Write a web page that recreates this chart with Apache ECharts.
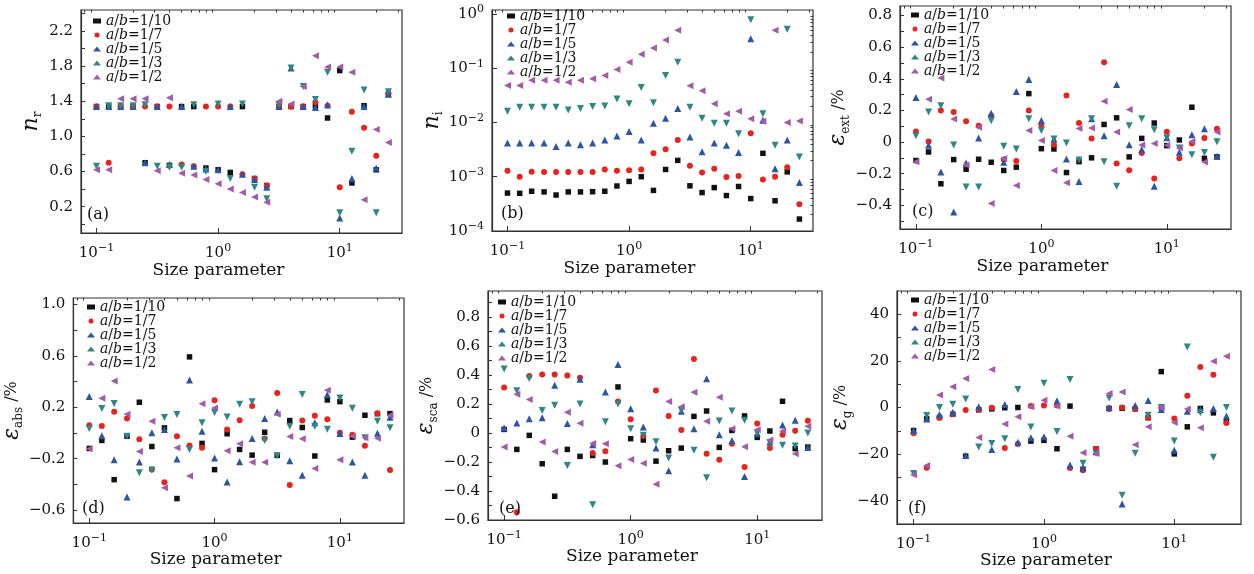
<!DOCTYPE html>
<html><head><meta charset="utf-8">
<script src="https://cdn.jsdelivr.net/npm/echarts@6/dist/echarts.min.js"></script>
<style>html,body{margin:0;padding:0;background:#fff}#chart{width:1254px;height:574px}</style>
</head><body><div id="chart"></div>
<script>
// ---------- data ----------
const sizeParam = [0.1, 0.126, 0.158, 0.2, 0.251, 0.316, 0.398, 0.501, 0.631, 0.794, 1.0, 1.259, 1.585, 1.995, 2.512, 3.162, 3.981, 5.012, 6.31, 7.943, 10.0, 12.59, 15.85, 19.95, 25.12];
const seriesNames = ['a/b=1/10', 'a/b=1/7', 'a/b=1/5', 'a/b=1/3', 'a/b=1/2'];

// (a) real part of refractive index
const nr_10 = [1.34,1.34,1.34,1.34,0.70,1.34,0.67,1.34,1.34,0.64,0.62,0.59,1.34,0.52,0.44,1.34,1.34,1.34,1.34,1.21,1.75,0.47,1.35,0.62,1.48];
const nr_7  = [1.34,0.70,1.34,1.34,1.34,1.34,1.34,0.68,0.66,1.34,1.34,1.34,0.57,0.52,0.44,1.34,1.34,1.34,1.39,1.35,0.42,1.28,1.10,0.78,1.49];
const nr_5  = [1.34,1.34,1.34,1.34,0.70,1.34,0.68,1.34,0.66,0.63,0.62,1.34,0.57,0.51,0.42,1.34,1.78,1.34,1.33,1.36,0.07,0.52,1.34,0.64,1.48];
const nr_3  = [0.66,1.35,1.35,1.35,1.36,0.66,0.65,0.65,1.36,0.60,1.37,0.52,1.37,0.42,0.29,1.36,1.78,1.57,1.42,1.73,0.13,0.83,1.53,0.13,1.51];
const nr_2  = [0.62,0.62,1.43,1.43,1.43,0.61,1.44,0.58,0.56,0.51,0.46,0.40,0.36,0.31,0.25,1.40,1.37,1.57,1.92,1.79,1.79,1.73,0.28,1.08,0.93];

// (b) imaginary part of refractive index
const ni_10 = [5.0e-4,4.95e-4,5.4e-4,5.25e-4,4.6e-4,5.25e-4,5.25e-4,5.3e-4,5.4e-4,6.75e-4,8.2e-4,1.0e-3,5.6e-4,1.36e-3,2.0e-3,6.8e-4,5.1e-4,6.3e-4,4.5e-4,6.6e-4,3.96e-4,2.7e-3,3.6e-4,1.23e-3,1.66e-4];
const ni_7  = [1.29e-3,1.0e-3,1.23e-3,1.22e-3,1.22e-3,1.22e-3,1.22e-3,1.22e-3,1.36e-3,1.29e-3,1.32e-3,1.36e-3,2.7e-3,3.2e-3,4.75e-3,1.59e-3,1.2e-3,1.4e-3,9.9e-4,1.03e-3,6.3e-3,8.9e-4,1.0e-3,1.5e-3,3.1e-4];
const ni_5  = [4.2e-3,4.2e-3,4.2e-3,4.2e-3,3.6e-3,4.2e-3,3.9e-3,4.2e-3,4.75e-3,5.6e-3,6.8e-3,4.75e-3,9.7e-3,1.2e-2,1.8e-2,5.4e-3,2.9e-3,4.2e-3,3.8e-3,2.8e-3,0.35,1.1e-2,1.4e-3,4.75e-3,7.8e-4];
const ni_3  = [1.6e-2,1.9e-2,1.9e-2,1.9e-2,1.9e-2,1.7e-2,1.8e-2,1.96e-2,2.0e-2,2.7e-2,2.2e-2,4.4e-2,2.3e-2,7.3e-2,0.129,1.9e-2,1.2e-2,9.7e-3,9.7e-3,6.2e-3,0.78,1.44e-2,3.8e-3,0.52,2.3e-3];
const ni_2  = [4.8e-2,4.8e-2,6.0e-2,6.0e-2,6.0e-2,5.5e-2,6.0e-2,6.4e-2,7.3e-2,9.5e-2,0.129,0.18,0.236,0.33,0.50,4.75e-2,3.85e-2,2.2e-2,1.44e-2,1.6e-2,1.17e-2,1.05e-2,0.5,1.0e-2,1.06e-2];

// (c) extinction error /%
const ext_10 = [-0.117,-0.063,-0.264,-0.111,-0.172,-0.109,-0.128,-0.18,-0.159,0.306,-0.042,-0.044,-0.193,-0.124,-0.10,0.111,0.153,-0.094,0.023,0.12,-0.023,0.013,0.22,-0.103,-0.094];
const ext_7  = [0.067,0.004,0.2,0.189,0.132,0.103,0.166,-0.11,-0.12,0.2,0.107,-0.017,0.294,0.12,0.023,0.505,-0.136,-0.178,-0.069,-0.231,0.065,-0.103,-0.01,0.025,0.084];
const ext_5  = [0.281,-0.021,-0.19,-0.442,-0.132,0.025,0.182,-0.128,0.32,0.396,0.136,0.019,-0.107,-0.249,0.147,0.04,0.363,-0.017,-0.048,-0.279,0.027,-0.065,0.046,0.084,-0.09];
const ext_3  = [0.04,0.189,0.229,-0.019,-0.285,-0.285,0.134,-0.027,-0.044,0.147,0.073,0.019,-0.006,-0.113,0.147,-0.124,-0.279,0.103,0.147,0.078,0.027,-0.038,-0.08,-0.067,0.002];
const ext_2  = [-0.124,0.27,0.405,0.145,-0.145,0.094,-0.388,-0.105,-0.275,0.073,0.01,-0.18,-0.258,0.086,0.088,0.258,0.063,0.205,-0.019,-0.01,-0.021,-0.038,0.004,-0.126,0.063];

// (d) absorption error /%
const abs_10 = [-0.12,-0.058,-0.363,-0.025,0.239,-0.105,0.04,-0.51,0.592,-0.081,-0.285,-0.006,-0.128,-0.172,0.006,-0.174,0.097,0.043,-0.179,0.257,0.244,-0.032,0.138,0.15,0.151];
const abs_7  = [0.061,0.055,0.166,0.112,-0.048,-0.283,-0.383,-0.025,-0.097,-0.115,0.254,0.027,0.099,0.21,-0.043,0.311,-0.404,0.097,0.135,0.107,0.001,-0.014,-0.099,0.154,-0.288];
const abs_5  = [0.283,-0.022,-0.208,-0.497,-0.226,0.001,0.027,-0.203,0.412,0.014,-0.195,-0.381,-0.223,-0.043,0.112,0.164,-0.215,-0.329,0.079,0.298,-0.004,-0.226,-0.329,-0.001,0.123];
const abs_3  = [0.035,0.19,0.229,-0.025,-0.309,-0.288,0.12,0.143,-0.128,0.079,0.159,0.125,0.223,0.244,-0.058,-0.177,0.053,0.30,0.053,0.03,0.272,0.192,-0.037,0.092,0.04];
const abs_2  = [-0.123,0.27,0.404,0.146,-0.143,0.092,-0.425,-0.115,-0.334,0.228,0.195,-0.138,-0.084,-0.228,-0.228,0.146,-0.027,-0.045,-0.277,0.332,-0.208,-0.025,-0.037,-0.04,0.138];

// (e) scattering error /%
const sca_10 = [0.025,-0.113,-0.016,-0.212,-0.436,-0.113,-0.161,-0.155,-0.2,0.318,-0.039,-0.048,-0.194,-0.122,-0.104,0.115,0.152,-0.099,0.018,0.118,-0.03,0.014,0.219,-0.108,-0.097];
const sca_7  = [0.314,-0.547,0.394,0.404,0.404,0.397,0.381,-0.138,-0.125,0.217,0.095,-0.021,0.293,0.118,0.021,0.51,-0.143,-0.185,-0.074,-0.235,0.065,-0.104,-0.012,0.016,0.085];
const sca_5  = [0.035,0.069,0.099,0.106,0.33,0.065,0.371,-0.081,0.284,0.473,0.168,0.042,-0.104,-0.261,0.15,0.03,0.374,-0.012,-0.051,-0.30,-0.005,-0.062,0.055,0.088,-0.099];
const sca_3  = [0.441,0.291,0.376,0.155,0.191,-0.224,0.201,-0.494,0.078,0.201,0.03,-0.016,-0.06,-0.173,0.157,-0.118,-0.309,0.083,0.152,0.088,0.002,-0.067,-0.085,-0.09,0.0];
const sca_2  = [-0.097,0.268,0.231,-0.062,-0.127,0.143,0.067,-0.072,-0.074,-0.226,-0.182,-0.208,-0.353,0.217,0.182,0.281,0.081,0.247,0.03,-0.095,0.023,-0.048,0.014,-0.143,0.046];

// (f) asymmetry factor error /%
const g_10 = [-9.9,-4.9,-4.3,-2.9,-20.9,-1,-0.6,-0.1,0,-14.4,-14.1,-17.7,0.6,-26.5,-17.7,-0.4,-0.3,-0.6,-4.4,15.4,-19.9,-8.3,-0.4,-2.3,-6.1];
const g_7  = [-11,-25.9,-4.4,-2.9,-1.1,-0.9,-0.1,-17.4,-15.7,0.6,0.9,0.9,-26,-26.9,-17.7,-0.6,0,-0.4,-4.3,-0.1,-4.7,5,17.4,14.1,-6.6];
const g_5  = [-9.9,-4.9,-3,-2,-20.6,0.3,-18,1.3,-14.9,-13,-12.6,2.9,-24.7,-25.9,-19,0,-41.4,0.9,3,-0.9,-18.3,-1.6,-0.9,-0.4,-3.7];
const g_3  = [-28.3,-3.4,0,1.4,3.7,-17,-15.4,-13.4,7.7,-8.4,10.4,-10.3,12,-23.9,-19.7,4.1,-37.7,-19.6,-3.3,0,-14.4,26,-2.3,-21.4,0];
const g_2  = [-28.9,-24.9,5.4,8.9,12.4,-12.9,16.3,-7.1,-4,0.3,3.1,0.6,-12.3,-19.4,-19.7,6,6.6,-16,-8.3,0,-6.4,-0.6,-8.7,19.9,22];

// ---------- ticks ----------
const xMajorTicks = [0.1, 1, 10];
const xMinorTicks = [0.08,0.09,0.2,0.3,0.4,0.5,0.6,0.7,0.8,0.9,2,3,4,5,6,7,8,9,20,30];
const aTicks  = [0,0.2,0.4,0.6,0.8,1.0,1.2,1.4,1.6,1.8,2.0,2.2,2.4];
const aLabels = [0.2,0.6,1.0,1.4,1.8,2.2];
const bLabels = [1e-4,1e-3,1e-2,1e-1,1];
const bMinor  = [2e-4,3e-4,4e-4,5e-4,6e-4,7e-4,8e-4,9e-4,2e-3,3e-3,4e-3,5e-3,6e-3,7e-3,8e-3,9e-3,2e-2,3e-2,4e-2,5e-2,6e-2,7e-2,8e-2,9e-2,0.2,0.3,0.4,0.5,0.6,0.7,0.8,0.9];
const cTicks  = [-0.5,-0.4,-0.3,-0.2,-0.1,0,0.1,0.2,0.3,0.4,0.5,0.6,0.7,0.8];
const cLabels = [-0.4,-0.2,0,0.2,0.4,0.6,0.8];
const dTicks  = [-0.6,-0.4,-0.2,0,0.2,0.4,0.6,0.8,1.0];
const dLabels = [-0.6,-0.2,0.2,0.6,1.0];
const eTicks  = [-0.5,-0.4,-0.3,-0.2,-0.1,0,0.1,0.2,0.3,0.4,0.5,0.6,0.7,0.8,0.9];
const eLabels = [-0.6,-0.4,-0.2,0,0.2,0.4,0.6,0.8];
const fTicks  = [-40,-30,-20,-10,0,10,20,30,40];
const fLabels = [-40,-20,0,20,40];

// ---------- style ----------
const FONT = 'DejaVu Serif';
const TXT = '#111';
const AX = '#333';
const colors = ['#111111', '#e8231d', '#2d55a5', '#2f8783', '#a45aa9'];
const symbols = ['rect', 'circle', 'triangle', 'triangle', 'triangle'];
const rotates = [0, 0, 0, 180, 90];
const sizes = [5.5, 6, 7, 7, 7];
const X_MIN = 0.0746, X_MAX = 32.5;

const grids = [
  {left: 81,  top: 10,  width: 321, height: 223},
  {left: 492, top: 10,  width: 321, height: 221},
  {left: 900, top: 6,   width: 331, height: 223},
  {left: 73,  top: 298, width: 331, height: 225},
  {left: 488, top: 291, width: 334, height: 229},
  {left: 897, top: 291, width: 344, height: 233}
];

function minusFmt(s, v) { return v < -1e-9 ? '\u2212' + s : s; }
const fmt1 = v => Math.abs(v) < 1e-9 ? '0' : minusFmt(Math.abs(v).toFixed(1), v);
const fmtInt = v => minusFmt(String(Math.round(Math.abs(v))), v);
const fmtPow = v => { const e = Math.round(Math.log10(v)); return '{b|10}{s|' + (e < 0 ? '\u2212' + (-e) : e) + '}'; };
const powRich = {
  b: {fontFamily: FONT, fontSize: 15, color: TXT, lineHeight: 20},
  s: {fontFamily: FONT, fontSize: 11, color: TXT, lineHeight: 11, verticalAlign: 'top'}
};

const xAxes = [], yAxes = [], series = [], legends = [], titles = [];
const nameGapsX = [29, 29, 29, 23, 28, 21];

grids.forEach((g, gi) => {
  xAxes.push({
    type: 'log', gridIndex: gi, min: X_MIN, max: X_MAX,
    axisLine: {show: true, onZero: false, lineStyle: {color: AX, width: 1.2}},
    axisTick: {show: true, inside: true, length: 5, customValues: xMajorTicks, lineStyle: {color: AX}},
    axisLabel: {customValues: xMajorTicks, formatter: fmtPow, rich: powRich, margin: 10},
    splitLine: {show: false},
    name: 'Size parameter', nameLocation: 'middle', nameGap: nameGapsX[gi],
    nameTextStyle: {fontFamily: FONT, fontSize: 17, color: TXT, padding: [0, 46, 0, 0]}
  });
  xAxes.push({
    type: 'log', gridIndex: gi, min: X_MIN, max: X_MAX,
    axisLine: {show: false, onZero: false},
    axisTick: {show: true, inside: true, length: 2.5, customValues: xMinorTicks, lineStyle: {color: AX}},
    axisLabel: {show: false}, splitLine: {show: false}
  });
});

const nameRich = {
  n: {fontFamily: FONT, fontStyle: 'italic', fontSize: 22, color: TXT, lineHeight: 26},
  sub: {fontFamily: FONT, fontSize: 12, color: TXT, lineHeight: 16, verticalAlign: 'bottom'},
  t: {fontFamily: FONT, fontSize: 16, color: TXT, lineHeight: 26}
};

function linY(gi, min, max, ticks, labels, fmt, name, gap) {
  return {
    type: 'value', gridIndex: gi, min: min, max: max,
    axisLine: {show: true, onZero: false, lineStyle: {color: AX, width: 1.2}},
    axisTick: {show: true, inside: true, length: 4, customValues: ticks, lineStyle: {color: AX}},
    axisLabel: {customValues: labels, formatter: fmt, fontFamily: FONT, fontSize: 15, color: TXT, margin: 8},
    splitLine: {show: false},
    name: name, nameLocation: 'middle', nameGap: gap, nameTextStyle: {rich: nameRich}
  };
}

yAxes.push(linY(0, -0.1, 2.44, aTicks, aLabels, fmt1, '{n|n}{sub|r}', 37));
yAxes.push({
  type: 'log', gridIndex: 1, min: 1e-4, max: 1.18,
  axisLine: {show: true, onZero: false, lineStyle: {color: AX, width: 1.2}},
  axisTick: {show: true, inside: true, length: 5, customValues: bLabels, lineStyle: {color: AX}},
  axisLabel: {customValues: bLabels, formatter: fmtPow, rich: powRich, margin: 8},
  splitLine: {show: false},
  name: '{n|n}{sub|i}', nameLocation: 'middle', nameGap: 45, nameTextStyle: {rich: nameRich}
});
yAxes.push({
  type: 'log', gridIndex: 1, min: 1e-4, max: 1.18,
  axisLine: {show: false, onZero: false},
  axisTick: {show: true, inside: true, length: 2.5, customValues: bMinor, lineStyle: {color: AX}},
  axisLabel: {show: false}, splitLine: {show: false}
});
yAxes.push(linY(2, -0.55, 0.86, cTicks, cLabels, fmt1, '{n|\u03b5}{sub|ext}{t| /%}', 38));
yAxes.push(linY(3, -0.7, 1.05, dTicks, dLabels, fmt1, '{n|\u03b5}{sub|abs}{t| /%}', 44));
yAxes.push(linY(4, -0.6, 0.98, eTicks, eLabels, fmt1, '{n|\u03b5}{sub|sca}{t| /%}', 46));
yAxes.push(linY(5, -50, 50, fTicks, fLabels, fmtInt, '{n|\u03b5}{sub|g}{t| /%}', 38));

const panelData = [
  [nr_10, nr_7, nr_5, nr_3, nr_2],
  [ni_10, ni_7, ni_5, ni_3, ni_2],
  [ext_10, ext_7, ext_5, ext_3, ext_2],
  [abs_10, abs_7, abs_5, abs_3, abs_2],
  [sca_10, sca_7, sca_5, sca_3, sca_2],
  [g_10, g_7, g_5, g_3, g_2]
];
const yIndexOf = [0, 1, 3, 4, 5, 6];

panelData.forEach((arrs, gi) => {
  arrs.forEach((arr, si) => {
    series.push({
      type: 'scatter', name: seriesNames[si],
      xAxisIndex: gi * 2, yAxisIndex: yIndexOf[gi],
      symbol: symbols[si], symbolRotate: rotates[si], symbolSize: sizes[si],
      itemStyle: {color: colors[si], opacity: 1},
      data: sizeParam.map((x, i) => [x, arr[i]])
    });
  });
});

const legendPos = [
  {left: 93, top: 14}, {left: 507, top: 9}, {left: 911, top: 8},
  {left: 87, top: 300}, {left: 498, top: 295}, {left: 911, top: 293}
];
legendPos.forEach(p => {
  legends.push({
    orient: 'vertical', left: p.left, top: p.top, itemGap: 0,
    itemWidth: 8, itemHeight: 5, padding: 0,
    data: seriesNames, selectedMode: false,
    formatter: name => '{i|a}{n|/}{i|b}{n|' + name.slice(3) + '}',
    textStyle: {
      rich: {
        i: {fontFamily: FONT, fontStyle: 'italic', fontSize: 14, color: TXT, lineHeight: 14},
        n: {fontFamily: FONT, fontSize: 14, color: TXT, lineHeight: 14}
      }
    }
  });
});

const labelPos = [
  ['(a)', 87, 207], ['(b)', 501, 206], ['(c)', 912, 204],
  ['(d)', 82, 501], ['(e)', 499, 501], ['(f)', 908, 501]
];
labelPos.forEach(l => titles.push({
  text: l[0], left: l[1], top: l[2], padding: 0,
  textStyle: {fontFamily: FONT, fontSize: 16, fontWeight: 'normal', color: TXT}
}));

const chart = echarts.init(document.getElementById('chart'), null, {renderer: 'canvas'});
chart.setOption({
  animation: false,
  backgroundColor: '#fff',
  title: titles,
  grid: grids.map(g => Object.assign({show: true, borderColor: AX, borderWidth: 1.2, backgroundColor: 'transparent', containLabel: false}, g)),
  xAxis: xAxes,
  yAxis: yAxes,
  legend: legends,
  series: series
});
</script>
</body></html>
